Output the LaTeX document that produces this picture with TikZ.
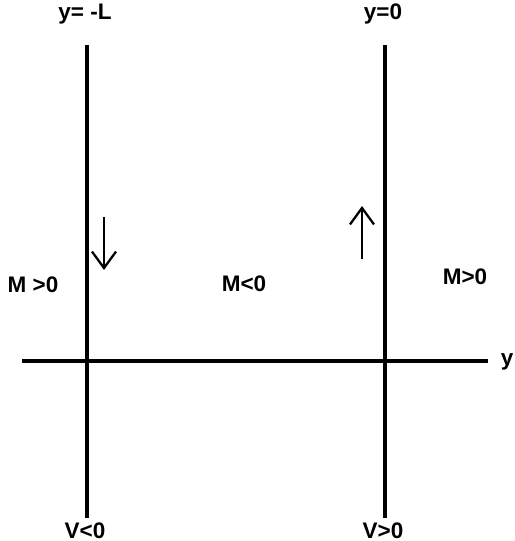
\documentclass[tikz,border=0pt]{standalone}
\usepackage{fontspec}
\setmainfont{Liberation Sans}
\usepackage{tikz}
\usetikzlibrary{positioning,arrows.meta}

\begin{document}
\begin{tikzpicture}[x=0.02cm,y=-0.02cm,
  axis/.style={line width=1.8pt},
  lbl/.style={font=\bfseries\fontsize{12.8}{14}\selectfont,inner sep=0pt},
  flow/.style={line width=1.3pt,-{Straight Barb[length=3.3mm,width=4.8mm,line width=1.3pt]}}]
\useasboundingbox (0,0) rectangle (514,541);
% walls and axis
\coordinate (lt) at (87,45);
\coordinate (lb) at (87,518);
\coordinate (rt) at (385,45);
\coordinate (rb) at (385,518);
\coordinate (al) at (22,361);
\coordinate (ar) at (488,361);
\draw[axis] (lt) -- (lb);
\draw[axis] (rt) -- (rb);
\draw[axis] (al) -- (ar);
% labels
\node[lbl] (yl) at (85,14) {y= -L};
\node[lbl] (y0) at (383,14) {y=0};
\node[lbl] (vl) at (85,531) {V<0};
\node[lbl] (vr) at (383,531) {V>0};
\node[lbl] (ml) at (33,285) {M >0};
\node[lbl] (mc) at (244,284) {M<0};
\node[lbl] (mr) at (465,277) {M>0};
\node[lbl] (yax) at (507,362) {y};
% shear arrows
\coordinate (dn1) at (104,217);
\coordinate (dn2) at (104,270);
\coordinate (up1) at (362,259);
\coordinate (up2) at (362,206);
\draw[flow] (dn1) -- (dn2);
\draw[flow] (up1) -- (up2);
\end{tikzpicture}
\end{document}
